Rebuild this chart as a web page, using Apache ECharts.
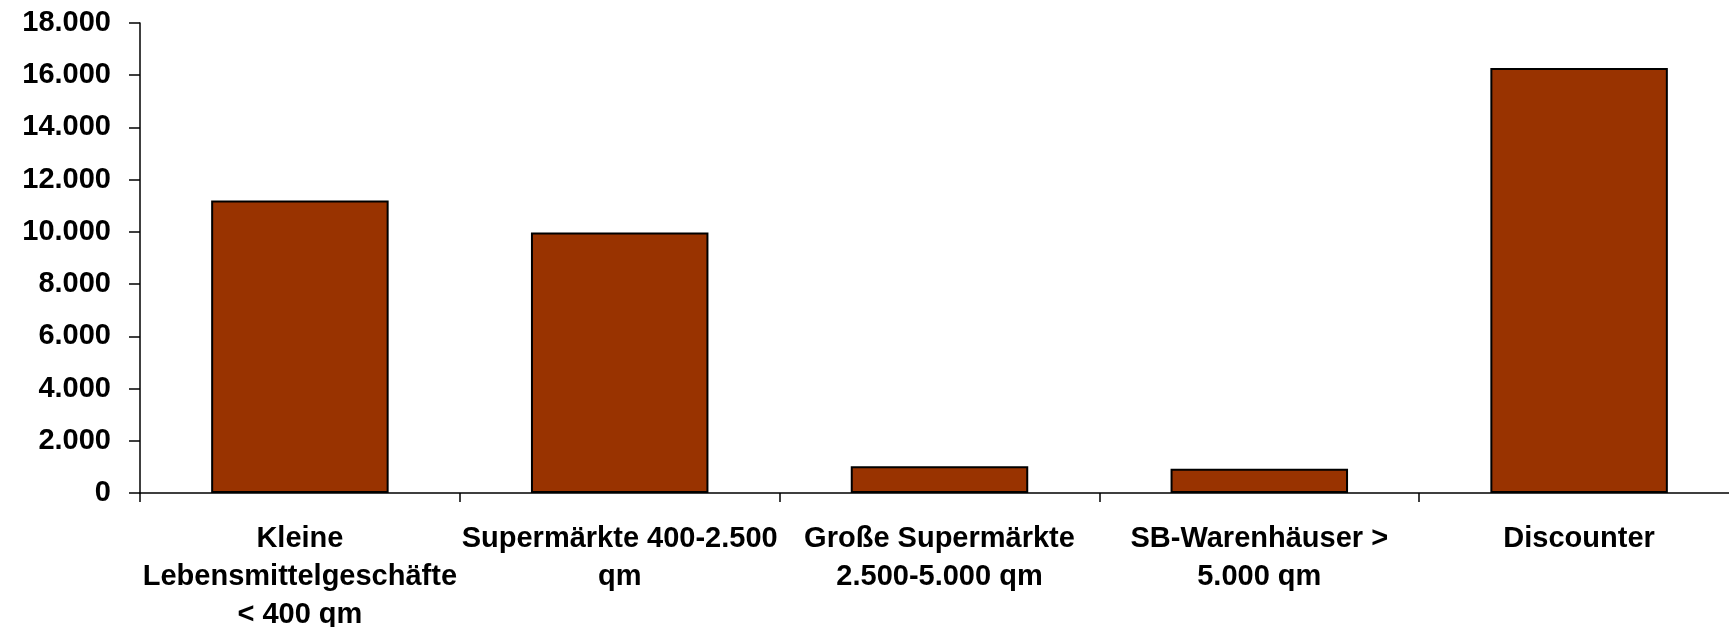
<!DOCTYPE html>
<html>
<head>
<meta charset="utf-8">
<script src="https://cdn.jsdelivr.net/npm/echarts@6/dist/echarts.min.js"></script>
<style>
  html, body { margin: 0; padding: 0; background: #ffffff; }
  #chart { width: 1729px; height: 627px; }
</style>
</head>
<body>
<div id="chart"></div>
<script>
// Store categories (line breaks as shown under the axis)
const categories = [
  'Kleine\nLebensmittelgeschäfte\n< 400 qm',
  'Supermärkte 400-2.500\nqm',
  'Große Supermärkte\n2.500-5.000 qm',
  'SB-Warenhäuser >\n5.000 qm',
  'Discounter'
];
// Number of stores per category
const storeCounts = [11200, 9980, 1020, 930, 16280];
// Value axis range
const axisMin = 0;
const axisMax = 18000;
const axisStep = 2000;

const font = '"Liberation Sans", Arial, sans-serif';
const chart = echarts.init(document.getElementById('chart'), null, { renderer: 'canvas' });

chart.setOption({
  animation: false,
  backgroundColor: '#ffffff',
  // the plot runs slightly past the right edge of the canvas
  grid: {
    left: 140, width: 1599, top: 23, bottom: 134,
    containLabel: false,
    outerBoundsMode: 'none'
  },
  xAxis: {
    type: 'category',
    data: categories,
    axisLine: { show: true, lineStyle: { color: '#000', width: 1.5 } },
    axisTick: { show: true, length: 9, lineStyle: { color: '#000', width: 1.5 } },
    axisLabel: {
      interval: 0,
      margin: 27,
      color: '#000',
      fontFamily: font,
      fontWeight: 'bold',
      fontSize: 29,
      lineHeight: 38
    }
  },
  yAxis: {
    type: 'value',
    min: axisMin,
    max: axisMax,
    interval: axisStep,
    splitLine: { show: false },
    axisLine: { show: true, lineStyle: { color: '#000', width: 1.5 } },
    axisTick: { show: true, length: 11, lineStyle: { color: '#000', width: 1.5 } },
    axisLabel: {
      margin: 29,
      color: '#000',
      fontFamily: font,
      fontWeight: 'bold',
      fontSize: 29,
      formatter: v => v === 0 ? '0' : v.toLocaleString('de-DE')
    }
  },
  series: [{
    type: 'bar',
    data: storeCounts,
    barWidth: '55.5%',
    itemStyle: { color: '#993300', borderColor: '#000', borderWidth: 2 }
  }]
});
</script>
</body>
</html>
